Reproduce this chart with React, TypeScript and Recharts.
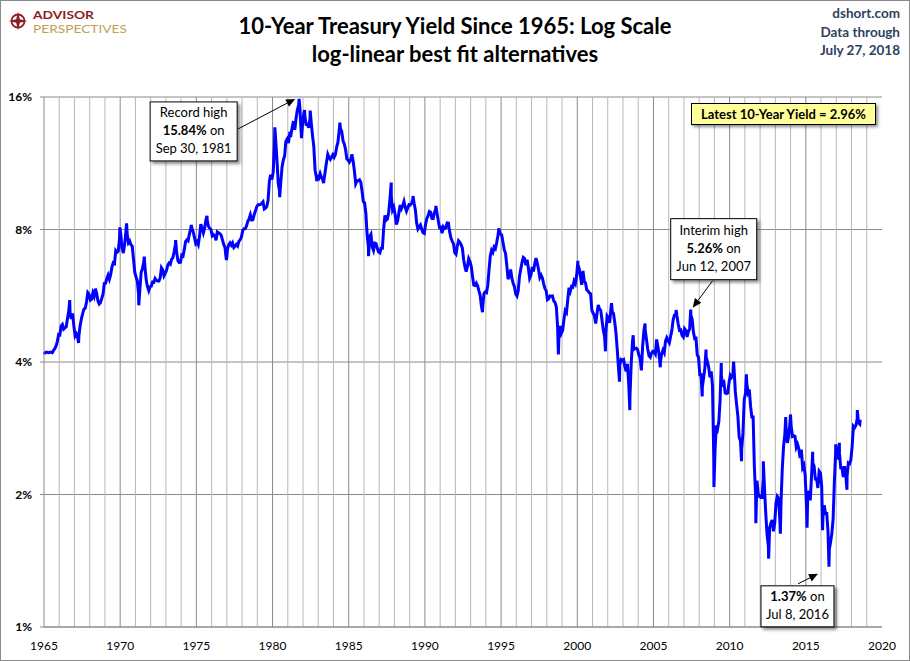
import React from 'react';
import { LineChart, Line, XAxis, YAxis, CartesianGrid, ReferenceLine, ReferenceDot } from 'recharts';

// Monthly average 10-year yields (%), Jan of first year onward
const M_1965 = [
  4.19, 4.21, 4.21, 4.20, 4.21, 4.21, 4.20, 4.25, 4.29, 4.35, 4.45, 4.62,
  4.61, 4.83, 4.87, 4.75, 4.78, 4.81, 5.02, 5.22, 5.18, 5.01, 5.16, 4.84,
  4.58, 4.63, 4.54, 4.59, 4.85, 5.02, 5.16, 5.28, 5.30, 5.48, 5.75, 5.70,
  5.53, 5.56, 5.74, 5.64, 5.87, 5.72, 5.50, 5.42, 5.46, 5.58, 5.70, 6.03,
  6.04, 6.19, 6.30, 6.17, 6.32, 6.57, 6.72, 6.69, 7.16, 7.10, 7.14, 7.65,
];
const M_1970 = [
  7.79, 7.24, 7.07, 7.39, 7.91, 7.84, 7.46, 7.53, 7.39, 7.33, 6.84, 6.39,
  6.24, 6.11, 5.70, 5.83, 6.39, 6.52, 6.73, 6.58, 6.14, 5.93, 5.81, 5.93,
  5.95, 6.08, 6.07, 6.19, 6.13, 6.11, 6.11, 6.21, 6.55, 6.48, 6.28, 6.36,
  6.46, 6.64, 6.71, 6.67, 6.85, 6.90, 7.13, 7.40, 7.09, 6.79, 6.73, 6.74,
  6.99, 6.96, 7.21, 7.51, 7.58, 7.54, 7.81, 8.04, 8.04, 7.90, 7.68, 7.43,
  7.50, 7.39, 7.73, 8.23, 8.06, 7.86, 8.06, 8.40, 8.43, 8.14, 8.05, 8.00,
  7.74, 7.79, 7.73, 7.56, 7.90, 7.86, 7.83, 7.77, 7.59, 7.41, 7.29, 6.87,
  7.21, 7.39, 7.46, 7.37, 7.46, 7.28, 7.33, 7.40, 7.34, 7.52, 7.58, 7.69,
  7.96, 8.03, 8.04, 8.15, 8.35, 8.46, 8.64, 8.41, 8.42, 8.64, 8.81, 9.01,
  9.10, 9.10, 9.12, 9.18, 9.25, 8.91, 8.95, 9.03, 9.33, 10.30, 10.65, 10.39,
];
const M_1980 = [
  10.80, 12.41, 12.75, 11.47, 10.18, 9.78, 10.25, 11.10, 11.51, 11.75, 12.68, 12.84,
  12.57, 13.19, 13.12, 13.68, 14.10, 13.47, 14.28, 14.94, 15.32, 15.15, 13.39, 13.72,
  14.59, 14.43, 13.86, 13.87, 13.62, 14.30, 13.95, 13.06, 12.34, 10.91, 10.55, 10.54,
  10.46, 10.72, 10.51, 10.40, 10.38, 10.85, 11.38, 11.85, 11.65, 11.54, 11.69, 11.83,
  11.67, 11.84, 12.32, 12.63, 13.41, 13.56, 13.36, 12.72, 12.52, 12.16, 11.57, 11.50,
  11.38, 11.51, 11.86, 11.43, 10.85, 10.16, 10.31, 10.33, 10.37, 10.24, 9.78, 9.26,
  9.19, 8.70, 7.78, 7.30, 7.71, 7.80, 7.30, 7.17, 7.45, 7.43, 7.25, 7.11,
  7.08, 7.25, 7.25, 8.02, 8.61, 8.40, 8.45, 8.76, 9.42, 9.52, 8.86, 8.99,
  8.67, 8.21, 8.37, 8.72, 9.09, 8.92, 9.06, 9.26, 8.98, 8.80, 8.96, 9.11,
  9.09, 9.17, 9.36, 9.18, 8.86, 8.28, 8.02, 8.11, 8.19, 8.01, 7.87, 7.84,
];
const M_1990 = [
  8.21, 8.47, 8.59, 8.79, 8.76, 8.48, 8.47, 8.75, 8.89, 8.72, 8.39, 8.08,
  8.09, 7.85, 8.11, 8.04, 8.07, 8.28, 8.27, 7.90, 7.65, 7.53, 7.42, 7.09,
  7.03, 7.34, 7.54, 7.48, 7.39, 7.26, 6.84, 6.59, 6.42, 6.59, 6.87, 6.77,
  6.60, 6.26, 5.98, 5.97, 6.04, 5.96, 5.81, 5.68, 5.36, 5.33, 5.72, 5.77,
  5.75, 5.97, 6.48, 6.97, 7.18, 7.10, 7.30, 7.24, 7.46, 7.74, 7.96, 7.81,
  7.78, 7.47, 7.20, 7.06, 6.63, 6.17, 6.28, 6.49, 6.20, 6.04, 5.93, 5.71,
  5.65, 5.81, 6.27, 6.51, 6.74, 6.91, 6.87, 6.64, 6.83, 6.53, 6.20, 6.30,
  6.58, 6.42, 6.69, 6.89, 6.71, 6.49, 6.22, 6.30, 6.21, 6.03, 5.88, 5.81,
  5.54, 5.57, 5.65, 5.64, 5.65, 5.50, 5.46, 5.34, 4.81, 4.53, 4.83, 4.65,
  4.72, 5.00, 5.23, 5.18, 5.54, 5.90, 5.79, 5.94, 5.92, 6.11, 6.03, 6.28,
];
const M_2000 = [
  6.66, 6.52, 6.26, 5.99, 6.44, 6.10, 6.05, 5.83, 5.80, 5.74, 5.72, 5.24,
  5.16, 5.10, 4.89, 5.14, 5.39, 5.28, 5.24, 4.97, 4.73, 4.57, 4.65, 5.09,
  5.04, 4.91, 5.28, 5.21, 5.16, 4.93, 4.65, 4.26, 3.87, 3.94, 4.05, 4.03,
  4.05, 3.90, 3.81, 3.96, 3.57, 3.33, 3.98, 4.45, 4.27, 4.29, 4.30, 4.27,
  4.15, 4.08, 3.83, 4.35, 4.72, 4.73, 4.50, 4.28, 4.13, 4.10, 4.19, 4.23,
  4.22, 4.17, 4.50, 4.34, 4.14, 4.00, 4.18, 4.26, 4.20, 4.46, 4.54, 4.47,
  4.42, 4.57, 4.72, 4.99, 5.11, 5.11, 5.09, 4.88, 4.72, 4.73, 4.60, 4.56,
  4.76, 4.72, 4.56, 4.69, 4.75, 5.10, 5.00, 4.67, 4.52, 4.53, 4.15, 4.10,
  3.74, 3.74, 3.51, 3.68, 3.88, 4.10, 4.01, 3.89, 3.69, 3.81, 3.53, 2.42,
  2.52, 2.87, 2.82, 2.93, 3.29, 3.72, 3.56, 3.59, 3.40, 3.39, 3.40, 3.59,
];
const M_2010 = [
  3.73, 3.69, 3.73, 3.85, 3.42, 3.20, 3.01, 2.70, 2.65, 2.54, 2.76, 3.29,
  3.39, 3.58, 3.41, 3.46, 3.17, 3.00, 3.00, 2.30, 1.98, 2.15, 2.01, 1.98,
  1.97, 1.97, 2.17, 2.05, 1.80, 1.62, 1.53, 1.68, 1.72, 1.75, 1.65, 1.72,
  1.91, 1.98, 1.96, 1.76, 1.93, 2.30, 2.58, 2.74, 2.81, 2.62, 2.72, 2.90,
  2.86, 2.71, 2.72, 2.71, 2.56, 2.60, 2.54, 2.42, 2.53, 2.30, 2.33, 2.21,
  1.88, 1.98, 2.04, 1.94, 2.20, 2.36, 2.32, 2.17, 2.17, 2.07, 2.26, 2.24,
  2.09, 1.78, 1.89, 1.81, 1.81, 1.64, 1.50, 1.56, 1.63, 1.76, 2.14, 2.49,
  2.43, 2.42, 2.48, 2.30, 2.30, 2.19, 2.32, 2.21, 2.20, 2.36, 2.35, 2.40,
  2.58, 2.86, 2.84, 2.87, 2.98, 2.91, 2.89,
];

// Daily highs and lows visible in the chart (decimal year, %)
const PEAK_DATES = [
  1965.0, 1966.69, 1967.27, 1969.98, 1970.42, 1971.22, 1971.58, 1973.64, 1974.67, 1975.7,
  1976.98, 1980.15, 1980.47, 1981.745, 1981.9, 1982.1, 1982.47, 1982.9, 1983.35, 1984.42,
  1986.3, 1987.79, 1989.22, 1990.72, 1993.78, 1994.86, 1998.76, 2000.04, 2001.85, 2002.25,
  2002.77, 2003.45, 2003.67, 2004.45, 2005.45, 2006.49, 2007.445, 2008.2, 2008.45, 2008.97,
  2009.45, 2010.26, 2010.78, 2011.1, 2011.72, 2012.21, 2012.56, 2013.33, 2013.68, 2013.99,
  2015.08, 2015.45, 2016.1, 2016.52, 2016.96, 2017.2, 2017.7, 2018.38, 2018.57,
];
const PEAK_VALUES = [
  4.17, 5.53, 4.42, 8.09, 8.26, 5.38, 6.94, 7.57, 8.19, 8.59,
  6.82, 13.65, 9.47, 15.84, 12.9, 14.95, 14.9, 10.3, 10.2, 13.99,
  6.96, 10.23, 9.53, 9.05, 5.19, 8.05, 4.16, 6.79, 4.23, 5.44,
  3.61, 3.11, 4.6, 4.89, 3.89, 5.25, 5.26, 3.34, 4.27, 2.08,
  3.98, 4.01, 2.38, 3.75, 1.72, 2.38, 1.43, 1.63, 3.0, 3.04,
  1.68, 2.5, 1.66, 1.37, 2.6, 2.62, 2.05, 3.11, 2.96,
];

const X_TICKS = [1965, 1970, 1975, 1980, 1985, 1990, 1995, 2000, 2005, 2010, 2015, 2020];
const Y_TICKS = [1, 2, 4, 8, 16];
const GRID_YEARS = Array.from({ length: 54 }, (_, i) => 1966 + i);

const RECORD_HIGH = { date: 1981.745, value: 15.84 };
const INTERIM_HIGH = { date: 2007.445, value: 5.26 };
const RECORD_LOW = { date: 2016.52, value: 1.37 };
const LATEST = 2.96;

const FONT = 'Lato, "Noto Sans", sans-serif';

const decades: [number, number[]][] = [
  [1965, M_1965], [1970, M_1970], [1980, M_1980], [1990, M_1990], [2000, M_2000], [2010, M_2010],
];
const data = decades
  .flatMap(([start, arr]) => arr.map((v, i) => ({ t: start + (i + 0.5) / 12, v })))
  .concat(PEAK_DATES.map((t, i) => ({ t, v: PEAK_VALUES[i] })))
  .sort((a, b) => a.t - b.t);

type Seg = { text: string; bold?: boolean };

function Callout(props: any) {
  const { cx, cy, box, from, to, lines, id } = props;
  if (cx == null || cy == null) return null;
  const x1 = cx + from[0], y1 = cy + from[1];
  const x2 = cx + to[0], y2 = cy + to[1];
  const len = Math.hypot(x2 - x1, y2 - y1);
  const ux = (x2 - x1) / len, uy = (y2 - y1) / len;
  const bx = x2 - ux * 9, by = y2 - uy * 9;
  const head = `${x2},${y2} ${bx - uy * 4},${by + ux * 4} ${bx + uy * 4},${by - ux * 4}`;
  const left = cx + box.dx, top = cy + box.dy;
  return (
    <g>
      <defs>
        <filter id={id} x="-20%" y="-20%" width="150%" height="150%">
          <feDropShadow dx="2.5" dy="2.5" stdDeviation="1.5" floodColor="#000" floodOpacity="0.45" />
        </filter>
      </defs>
      <line x1={x1} y1={y1} x2={bx} y2={by} stroke="#000" strokeWidth={1} />
      <polygon points={head} fill="#000" />
      <rect x={left} y={top} width={box.w} height={box.h} fill="#fff" stroke="#000" strokeWidth={1} filter={`url(#${id})`} />
      {lines.map((segs: Seg[], i: number) => (
        <text key={i} x={left + box.w / 2} y={top + box.ty + i * 18} textAnchor="middle" fontFamily={FONT} fontSize={13} fill="#000">
          {segs.map((s, j) => (
            <tspan key={j} fontWeight={s.bold ? 700 : 400}>{s.text}</tspan>
          ))}
        </text>
      ))}
    </g>
  );
}

export default function App() {
  return (
    <div style={{ position: 'relative', width: 910, height: 661, background: '#fff', fontFamily: FONT }}>
      <style>{'body{margin:0}'}</style>
      <LineChart width={910} height={661} data={data} margin={{ top: 97, right: 28, bottom: 0, left: 0 }}>
        <CartesianGrid vertical={false} stroke="#8a8a8a" strokeWidth={1} />
        {GRID_YEARS.map((yr) => (
          <ReferenceLine key={yr} x={yr} stroke={yr % 5 === 0 ? '#8a8a8a' : '#b8b8b8'} strokeWidth={1} />
        ))}
        <XAxis
          type="number"
          dataKey="t"
          domain={[1965, 2020]}
          ticks={X_TICKS}
          interval={0}
          height={34}
          tickLine={false}
          tickMargin={8}
          axisLine={{ stroke: '#8a8a8a' }}
          tick={{ fontSize: 12, fill: '#000', fontFamily: FONT }}
        />
        <YAxis
          type="number"
          scale="log"
          domain={[1, 16]}
          ticks={Y_TICKS}
          interval={0}
          allowDataOverflow
          width={44}
          tickSize={4}
          tickMargin={8}
          tickLine={{ stroke: '#8a8a8a' }}
          axisLine={{ stroke: '#8a8a8a' }}
          tickFormatter={(v: number) => `${v}%`}
          tick={{ fontSize: 12, fontWeight: 700, fill: '#000', fontFamily: FONT }}
        />
        <Line type="linear" dataKey="v" stroke="#0000ff" strokeWidth={3} dot={false} isAnimationActive={false} />
        <ReferenceDot
          x={RECORD_HIGH.date}
          y={RECORD_HIGH.value}
          r={0}
          ifOverflow="visible"
          shape={(p: any) => (
            <Callout
              {...p}
              id="sh1"
              box={{ dx: -149, dy: 3, w: 87, h: 59, ty: 15 }}
              from={[-61, 30]}
              to={[-4, 0]}
              lines={[
                [{ text: 'Record high' }],
                [{ text: '15.84%', bold: true }, { text: ' on' }],
                [{ text: 'Sep 30, 1981' }],
              ]}
            />
          )}
        />
        <ReferenceDot
          x={INTERIM_HIGH.date}
          y={INTERIM_HIGH.value}
          r={0}
          ifOverflow="visible"
          shape={(p: any) => (
            <Callout
              {...p}
              id="sh2"
              box={{ dx: -20, dy: -91, w: 86, h: 61, ty: 16 }}
              from={[22, -29]}
              to={[2, -2]}
              lines={[
                [{ text: 'Interim high' }],
                [{ text: '5.26%', bold: true }, { text: ' on' }],
                [{ text: 'Jun 12, 2007' }],
              ]}
            />
          )}
        />
        <ReferenceDot
          x={RECORD_LOW.date}
          y={RECORD_LOW.value}
          r={0}
          ifOverflow="visible"
          shape={(p: any) => (
            <Callout
              {...p}
              id="sh3"
              box={{ dx: -68, dy: 19, w: 73, h: 41, ty: 15 }}
              from={[-31, 17]}
              to={[-11, 7]}
              lines={[
                [{ text: '1.37%', bold: true }, { text: ' on' }],
                [{ text: 'Jul 8, 2016' }],
              ]}
            />
          )}
        />
      </LineChart>

      <svg width={910} height={661} style={{ position: 'absolute', left: 0, top: 0, pointerEvents: 'none' }}>
        <rect x={0.5} y={0.5} width={909} height={660} fill="none" stroke="#8a8a8a" />
        <g>
          <circle cx={18} cy={21} r={6.5} fill="none" stroke="#8b1e24" strokeWidth={1.8} />
          <polygon points="18,11.5 19.8,19.2 27.5,21 19.8,22.8 18,30.5 16.2,22.8 8.5,21 16.2,19.2" fill="#8b1e24" />
          <text x={33} y={18.5} fontFamily={FONT} fontSize={12} fontWeight={700} fill="#8b1e24" textLength={61} lengthAdjust="spacingAndGlyphs">ADVISOR</text>
          <text x={33} y={33} fontFamily={FONT} fontSize={11.5} fontWeight={400} fill="#c4a055" textLength={94} lengthAdjust="spacingAndGlyphs">PERSPECTIVES</text>
        </g>
        <text x={455} y={34} textAnchor="middle" fontFamily={FONT} fontSize={22} fontWeight={700} fill="#000">
          10-Year Treasury Yield Since 1965: Log Scale
        </text>
        <text x={455} y={62} textAnchor="middle" fontFamily={FONT} fontSize={22} fontWeight={700} fill="#000">
          log-linear best fit alternatives
        </text>
        <g fontFamily={FONT} fontSize={13.5} fontWeight={700} fill="#2e4260" textAnchor="end">
          <text x={900} y={18}>dshort.com</text>
          <text x={900} y={37}>Data through</text>
          <text x={900} y={55}>July 27, 2018</text>
        </g>
      </svg>

      <div
        style={{
          position: 'absolute',
          left: 691,
          top: 103,
          width: 185,
          height: 22,
          boxSizing: 'border-box',
          background: '#ffff99',
          border: '1px solid #000',
          boxShadow: '2px 2px 3px rgba(0,0,0,0.45)',
          fontFamily: FONT,
          fontSize: 13,
          fontWeight: 700,
          lineHeight: '20px',
          textAlign: 'center',
          color: '#000',
        }}
      >
        Latest 10-Year Yield = {LATEST.toFixed(2)}%
      </div>
    </div>
  );
}
